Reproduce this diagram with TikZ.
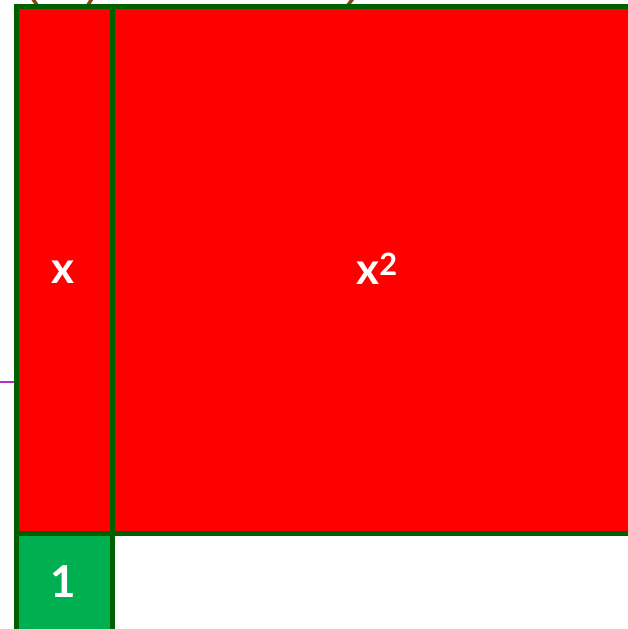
\documentclass[tikz,border=0pt]{standalone}
\usepackage{fontspec}
\setmainfont{Lato}
\definecolor{bord}{HTML}{006000}
\definecolor{tilegreen}{HTML}{00B050}
\definecolor{tilered}{HTML}{FF0000}
\definecolor{brownc}{HTML}{8B4513}
\definecolor{purp}{HTML}{B030C0}
\begin{document}
\begin{tikzpicture}[x=1pt,y=-1pt,
  tile/.style={draw=bord,line width=5pt},
  lab/.style={text=white,font=\fontsize{44}{44}\selectfont\bfseries}]
\useasboundingbox (0,0) rectangle (628,629);
\begin{scope}
\clip (0,0) rectangle (628,629);
% brown arcs poking above the top edge
\draw[brownc,line width=3.5pt] (28,-8) .. controls (33,-2) .. (37,5);
\draw[brownc,line width=3.5pt] (96,-8) .. controls (92,-2) .. (88,5);
\draw[brownc,line width=3.5pt] (358,-8) .. controls (353,-2) .. (348,5);
% tiles
\draw[tile,fill=tilered] (112,6) rectangle (640,533.5);
\draw[tile,fill=tilered] (16,6) rectangle (112,533.5);
\draw[tile,fill=tilegreen] (16,533.5) rectangle (112,640);
\node[lab] (xl) at (63,272) {x};
\node[lab] (x2) at (377,269) {x\textsuperscript{2}};
\node[lab] (one) at (63,582) {1};
\coordinate (pa) at (0,382);
\coordinate (pb) at (13.5,382);
\draw[purp,line width=1.2pt] (pa) -- (pb);
\end{scope}
\end{tikzpicture}
\end{document}
